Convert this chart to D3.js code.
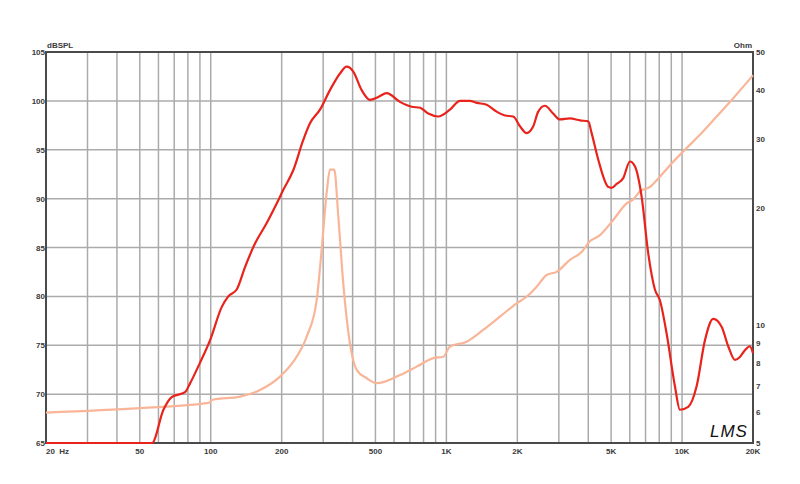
<!DOCTYPE html>
<html>
<head>
<meta charset="utf-8">
<script src="https://cdn.jsdelivr.net/npm/d3@7"></script>
<style>
  html, body { margin: 0; padding: 0; background: #fff; }
  svg text { font-family: "Liberation Sans", Arial, sans-serif; }
</style>
</head>
<body>
<svg id="chart" width="800" height="484"></svg>
<script>
// ---- Data ----
const splFreq = [20, 56.3, 63, 68.3, 77.8, 81.7, 90, 99.3, 111.3, 118.7, 128.9, 139.8, 154.1, 172.8, 190.5, 203.2, 224, 247, 263.7, 290.8, 320.6, 353.5, 377.4, 402.6, 437, 474, 514, 558, 635, 712, 773, 838, 923, 1035, 1142, 1259, 1344, 1482, 1634, 1772, 1921, 2052, 2190, 2336, 2453, 2618, 2840, 3032, 3344, 3688, 3999, 4133, 4408, 4861, 5024, 5276, 5628, 6008, 6308, 6736, 7186, 7670, 8054, 8600, 9328, 9794, 10618, 11528, 12504, 13560, 14720, 15700, 16760, 17600, 18480, 19400, 20000];
const splDb = [65, 65, 68.4, 69.7, 70.2, 71.1, 73.2, 75.5, 78.9, 80.0, 80.7, 83.0, 85.4, 87.5, 89.5, 90.9, 92.9, 96.0, 97.7, 99.1, 101.1, 102.8, 103.5, 103.0, 101.1, 100.1, 100.4, 100.8, 99.9, 99.4, 99.3, 98.7, 98.4, 99.1, 100.0, 100.0, 99.8, 99.6, 98.9, 98.5, 98.4, 97.4, 96.7, 97.4, 98.9, 99.5, 98.7, 98.1, 98.2, 98.0, 97.9, 96.7, 94.0, 91.2, 91.1, 91.5, 92.1, 93.8, 93.3, 90.2, 84.4, 80.7, 79.6, 76.2, 70.8, 68.4, 68.7, 70.8, 75.5, 77.7, 76.9, 74.9, 73.5, 73.8, 74.5, 74.9, 74.2];

const impFreq = [20, 50.1, 98, 102, 133.1, 161.8, 196.7, 224, 255.4, 281.6, 295.6, 310.4, 320.6, 334.4, 347.8, 365.1, 389.8, 416.2, 458.9, 505.8, 635, 748, 880, 970, 1035, 1219, 1433, 1687, 1986, 2190, 2416, 2664, 2936, 3344, 3748, 4064, 4482, 5106, 5818, 6206, 6626, 7306, 8054, 9172, 10454, 11906, 14020, 16492, 20000];
const impOhm = [5.98, 6.14, 6.33, 6.45, 6.57, 6.83, 7.39, 8.07, 9.35, 11.6, 15.6, 21.8, 25.0, 25.0, 19.0, 12.8, 8.99, 7.69, 7.32, 7.11, 7.46, 7.84, 8.24, 8.31, 8.82, 9.08, 9.73, 10.52, 11.38, 11.83, 12.55, 13.45, 13.7, 14.7, 15.4, 16.4, 17.0, 18.6, 20.5, 21.0, 22.0, 22.6, 24.0, 26.2, 28.4, 30.7, 34.2, 38.1, 43.6];

const xTickVals = [20, 50, 100, 200, 500, 1000, 2000, 5000, 10000, 20000];
const xTickLabels = ["20  Hz", "50", "100", "200", "500", "1K", "2K", "5K", "10K", "20K"];
const xGridVals = [30, 40, 50, 60, 70, 80, 90, 100, 200, 300, 400, 500, 600, 700, 800, 900, 1000, 2000, 3000, 4000, 5000, 6000, 7000, 8000, 9000, 10000];
const dbTicks = [65, 70, 75, 80, 85, 90, 95, 100, 105];
const ohmTicks = [5, 6, 7, 8, 9, 10, 20, 30, 40, 50];

// ---- Layout ----
const L = 46, R = 753, T = 52, B = 443;
const svg = d3.select("#chart");

const x = d3.scaleLog().domain([20, 20000]).range([L, R]);
const yDb = d3.scaleLinear().domain([65, 105]).range([B, T]);
const yOhm = d3.scaleLog().domain([5, 50]).range([B, T]);

// grid
const grid = svg.append("g");
grid.selectAll("line.v").data(xGridVals).enter().append("line")
  .attr("x1", d => x(d)).attr("x2", d => x(d))
  .attr("y1", T).attr("y2", B)
  .attr("stroke", "#ababab").attr("stroke-width", 1.5);
grid.selectAll("line.h").data(dbTicks.slice(1, -1)).enter().append("line")
  .attr("x1", L).attr("x2", R)
  .attr("y1", d => yDb(d)).attr("y2", d => yDb(d))
  .attr("stroke", "#ababab").attr("stroke-width", 1.5);

// frame
svg.append("rect").attr("x", L).attr("y", T).attr("width", R - L).attr("height", B - T)
  .attr("fill", "none").attr("stroke", "#4a4a4a").attr("stroke-width", 2);

// curves
const lineImp = d3.line().x((d, i) => x(impFreq[i])).y(d => yOhm(d)).curve(d3.curveMonotoneX);
const lineSpl = d3.line().x((d, i) => x(splFreq[i])).y(d => yDb(d)).curve(d3.curveMonotoneX);

svg.append("path").attr("d", lineImp(impOhm))
  .attr("fill", "none").attr("stroke", "#f9b598").attr("stroke-width", 2.2);
svg.append("path").attr("d", lineSpl(splDb))
  .attr("fill", "none").attr("stroke", "#e8231b").attr("stroke-width", 2.2);

// axes labels
const fs = 8;
const tc = "#3a3a3a";
svg.append("g").selectAll("text").data(dbTicks).enter().append("text")
  .attr("x", L - 1).attr("y", d => yDb(d) + 3)
  .attr("text-anchor", "end").attr("font-size", fs).attr("font-weight", "bold").attr("fill", tc)
  .text(d => d);
svg.append("g").selectAll("text").data(ohmTicks).enter().append("text")
  .attr("x", R + 3).attr("y", d => yOhm(d) + 3)
  .attr("text-anchor", "start").attr("font-size", fs).attr("font-weight", "bold").attr("fill", tc)
  .text(d => d);
svg.append("g").selectAll("text").data(xTickVals).enter().append("text")
  .attr("x", (d, i) => i === 0 ? L : x(d))
  .attr("y", B + 11)
  .attr("text-anchor", (d, i) => i === 0 ? "start" : "middle")
  .attr("font-size", fs).attr("font-weight", "bold").attr("fill", tc)
  .attr("xml:space", "preserve")
  .style("white-space", "pre")
  .text((d, i) => xTickLabels[i]);

svg.append("text").attr("x", L + 1).attr("y", T - 4).attr("font-size", fs).attr("font-weight", "bold").attr("fill", tc).text("dBSPL");
svg.append("text").attr("x", R - 1).attr("y", T - 4).attr("text-anchor", "end").attr("font-size", fs).attr("font-weight", "bold").attr("fill", tc).text("Ohm");

// LMS logo
svg.append("text").attr("x", 710).attr("y", 437)
  .attr("font-size", 17).attr("font-style", "italic")
  .attr("font-family", "DejaVu Serif, serif")
  .attr("fill", "#111").attr("letter-spacing", 1)
  .text("LMS");
</script>
</body>
</html>
